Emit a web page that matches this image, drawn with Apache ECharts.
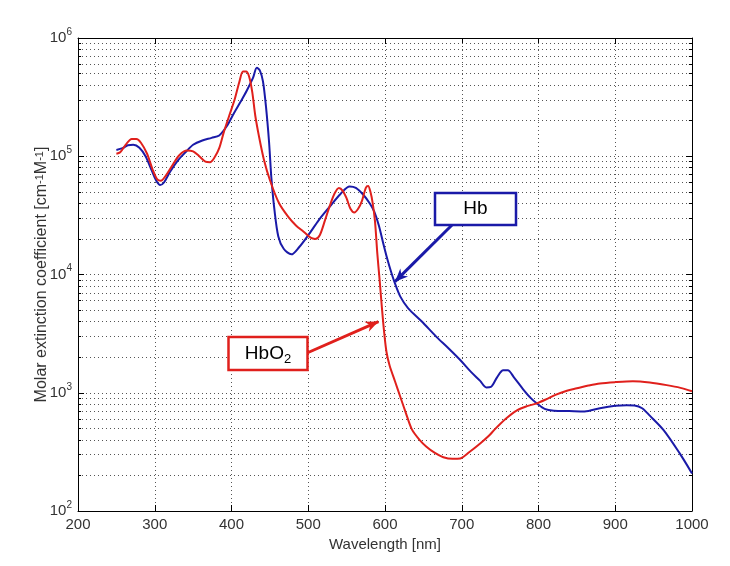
<!DOCTYPE html>
<html><head><meta charset="utf-8">
<script src="https://cdn.jsdelivr.net/npm/echarts@6/dist/echarts.min.js"></script>
<style>html,body{margin:0;padding:0;background:#fff}#c{width:730px;height:566px}</style>
</head><body><div id="c"></div>
<script>
// ---- data ----
const hbWavelength = [250,258,265,272,280,288,296,302,307,312,320,330,340,350,362,374,384,394,403,412,420,428,433,437,441,445,449,452,456,461,468,478,488,500,514,528,542,554,562,572,580,586,592,598,603,608,613,620,630,648,667,682,698,712,724,732,738,746,754,760,768,780,790,798,808,820,840,860,880,900,915,925,935,945,963,984,1000];
const hbValue = [113000,117000,124000,125000,118000,100000,76000,62000,57000,60000,74000,92000,108000,125000,136000,143000,150000,180000,230000,290000,360000,460000,560000,530000,430000,260000,130000,65000,35000,21000,16500,14800,17000,21500,29000,37500,48000,55500,54000,47000,40000,34000,26000,18000,13500,10500,8400,6500,5200,4000,2970,2400,1890,1500,1260,1110,1120,1350,1550,1550,1350,1070,900,810,730,705,700,695,740,775,785,780,740,640,483,307,208];
const hbo2Wavelength = [250,255,262,270,276,282,290,297,303,308,314,322,332,342,350,358,366,372,378,384,390,397,404,410,415,419,423,427,431,436,442,450,462,474,484,494,503,509,515,522,528,534,540,545,550,555,560,565,570,575,578,581,584,587,590,593,596,599,602,606,613,620,627,635,645,654,665,676,688,698,710,724,735,743,757,772,785,797,810,822,837,850,865,880,900,923,945,967,985,1000];
const hbo2Value = [105000,108000,125000,140000,140000,130000,105000,78000,64000,62000,68000,82000,102000,112000,110000,100000,90000,89000,98000,117000,160000,220000,300000,420000,520000,520000,470000,350000,220000,145000,95000,63000,40000,30700,26000,23000,20500,20000,21500,29000,38000,48000,54000,51000,44000,36000,33500,36000,42000,54000,56000,50000,40000,28000,15000,9000,5200,3200,2200,1700,1250,920,680,490,400,350,310,285,276,278,315,372,430,490,600,710,770,810,880,960,1040,1090,1150,1200,1230,1250,1220,1160,1100,1030];
const xTickValues = [200,300,400,500,600,700,800,900,1000];
const minorGridValues = [200,300,400,500,600,700,800,900,2000,3000,4000,5000,6000,7000,8000,9000,20000,30000,40000,50000,60000,70000,80000,90000,200000,300000,400000,500000,600000,700000,800000,900000];
const seriesNames = ['Hb','HbO₂'];
const xTitle = 'Wavelength [nm]';
const yTitle = 'Molar extinction coefficient [cm{sup|-1}M{sup|-1}]';

// ---- chart ----
const FONT = '"Liberation Sans", Arial, sans-serif';
const TXT = '#333';
const BLUE = '#1a1aa8';
const RED = '#e0201c';
const dotted = {type:[1,3], color:'#555', width:1};

const chart = echarts.init(document.getElementById('c'), null, {renderer:'canvas'});

function pairs(xs, ys){ return xs.map((x,i)=>[x, ys[i]]); }

const minorLines = minorGridValues.map(v => ({yAxis: v}));
const minorTicksLeft = minorGridValues.map(v => [{coord:[200, v]}, {coord:[204, v]}]);
const minorTicksRight = minorGridValues.map(v => [{coord:[996, v]}, {coord:[1000, v]}]);

const option = {
  animation: false,
  backgroundColor: '#fff',
  grid: {left:78, right:38, top:38, bottom:55, containLabel:false},
  xAxis: [{
    type:'value', min:200, max:1000, interval:100, position:'bottom',
    name: xTitle, nameLocation:'middle', nameGap:25,
    nameTextStyle:{fontFamily:FONT, fontSize:15, color:TXT},
    axisLine:{onZero:false, lineStyle:{color:'#000', width:1}},
    axisTick:{inside:true, length:6, lineStyle:{color:'#000'}},
    axisLabel:{fontFamily:FONT, fontSize:15, color:TXT, margin:6,
      formatter: v => String(v)},
    splitLine:{show:true, lineStyle:dotted}
  },{
    type:'value', min:200, max:1000, interval:100, position:'top',
    axisLine:{onZero:false, lineStyle:{color:'#000', width:1}},
    axisTick:{inside:true, length:6, lineStyle:{color:'#000'}},
    axisLabel:{show:false}, splitLine:{show:false}
  }],
  yAxis: [{
    type:'log', logBase:10, min:100, max:1000000, position:'left',
    name: yTitle, nameLocation:'middle', nameGap:28, nameMoveOverlap:false,
    nameTextStyle:{fontFamily:FONT, fontSize:16, color:TXT,
      rich:{sup:{fontFamily:FONT, fontSize:11, color:TXT, verticalAlign:'top', lineHeight:11}}},
    axisLine:{onZero:false, lineStyle:{color:'#000', width:1}},
    axisTick:{inside:true, length:6, lineStyle:{color:'#000'}},
    axisLabel:{margin:6, formatter: v => '{b|10}{s|' + Math.round(Math.log10(v)) + '}',
      rich:{
        b:{fontFamily:FONT, fontSize:15, color:TXT, lineHeight:22},
        s:{fontFamily:FONT, fontSize:10, color:TXT, lineHeight:10, verticalAlign:'top'}
      }},
    splitLine:{show:true, lineStyle:dotted},
    minorTick:{show:false}
  },{
    type:'log', logBase:10, min:100, max:1000000, position:'right',
    axisLine:{onZero:false, lineStyle:{color:'#000', width:1}},
    axisTick:{inside:true, length:6, lineStyle:{color:'#000'}},
    axisLabel:{show:false}, splitLine:{show:false}
  }],
  series: [{
    name: seriesNames[0], type:'line', data: pairs(hbWavelength, hbValue),
    xAxisIndex:0, yAxisIndex:0, showSymbol:false, smooth:0.3, z:3,
    lineStyle:{color:BLUE, width:2},
    markLine:{silent:true, symbol:'none', label:{show:false}, animation:false,
      lineStyle:{type:[1,3], color:'#555', width:1}, z:1,
      data: minorLines}
  },{
    name: seriesNames[1], type:'line', data: pairs(hbo2Wavelength, hbo2Value),
    xAxisIndex:0, yAxisIndex:0, showSymbol:false, smooth:0.3, z:4,
    lineStyle:{color:RED, width:2},
    markLine:{silent:true, symbol:'none', label:{show:false}, animation:false,
      lineStyle:{type:'solid', color:'#000', width:1},
      data: minorTicksLeft.concat(minorTicksRight)}
  }]
};
chart.setOption(option);

// ---- annotations (text boxes with arrows) ----
function arrowHead(x1, y1, x2, y2, len, half){
  const dx = x2-x1, dy = y2-y1, L = Math.hypot(dx,dy);
  const ux = dx/L, uy = dy/L, px = -uy, py = ux;
  const bx = x2-ux*len, by = y2-uy*len;
  const nx = x2-ux*len*0.7, ny = y2-uy*len*0.7;
  return [[x2,y2],[bx+px*half, by+py*half],[nx,ny],[bx-px*half, by-py*half]];
}
function annotation(box, label, tipData, fromPt, color, rich){
  const tip = chart.convertToPixel({xAxisIndex:0, yAxisIndex:0}, tipData);
  return [
    {type:'line', z:50, shape:{x1:fromPt[0], y1:fromPt[1], x2:tip[0], y2:tip[1]},
      style:{stroke:color, lineWidth:3}},
    {type:'polygon', z:51, shape:{points:arrowHead(fromPt[0],fromPt[1],tip[0],tip[1],13,5.5)},
      style:{fill:color}},
    {type:'rect', z:52, shape:{x:box[0], y:box[1], width:box[2], height:box[3]},
      style:{fill:'#fff', stroke:color, lineWidth:2.5}},
    {type:'text', z:53, x:box[0]+box[2]/2, y:box[1]+box[3]/2,
      style:{text:label, fill:'#000', font:'19px ' + FONT, align:'center', verticalAlign:'middle', rich:rich||{}}}
  ];
}
const subRich = {
  m:{fontFamily:FONT, fontSize:19, fill:'#000', lineHeight:24},
  sub:{fontFamily:FONT, fontSize:13, fill:'#000', lineHeight:13, verticalAlign:'bottom'}
};
const g = []
  .concat(annotation([435,193,81,32], 'Hb', [613, 8700], [452,225], BLUE))
  .concat(annotation([228.5,337,79,33], '{m|HbO}{sub|2}', [591.5, 4000], [307,353], RED, subRich));
chart.setOption({graphic: g});
</script>
</body></html>
